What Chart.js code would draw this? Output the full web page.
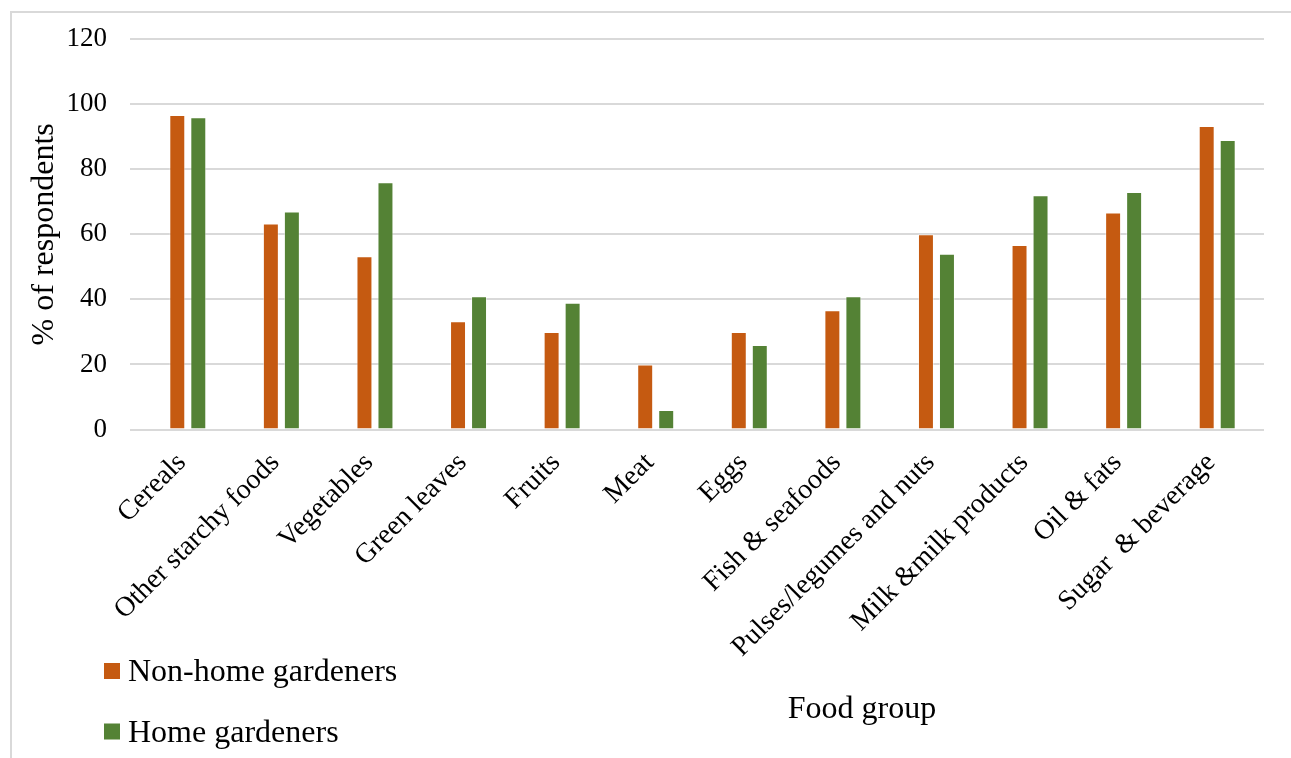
<!DOCTYPE html>
<html>
<head>
<meta charset="utf-8">
<title>Food group consumption</title>
<script src="https://cdn.jsdelivr.net/npm/chart.js@4.4.0/dist/chart.umd.min.js"></script>
<style>
    html, body { margin: 0; padding: 0; background: #fff; overflow: hidden; }
</style>
</head>
<body>
<canvas id="foodChart" width="1291" height="758"></canvas>
<script>
const foodGroups = ["Cereals", "Other starchy foods", "Vegetables", "Green leaves", "Fruits", "Meat",
    "Eggs", "Fish & seafoods", "Pulses/legumes and nuts", "Milk &milk products", "Oil & fats", "Sugar  & beverage"];
const nonHomeGardeners = [96.7, 63.3, 53.3, 33.3, 30, 20, 30, 36.7, 60, 56.7, 66.7, 93.3];
const homeGardeners = [96, 67, 76, 41, 39, 6, 26, 41, 54, 72, 73, 89];
const yTicks = [0, 20, 40, 60, 80, 100, 120];

const serif = "'Times New Roman', 'Liberation Serif', serif";
const gridGrey = "#d9d9d9";

// light grey frame round the whole chart
const framePlugin = {
    id: "frame",
    beforeDraw(chart) {
        const ctx = chart.ctx;
        ctx.save();
        ctx.strokeStyle = gridGrey;
        ctx.lineWidth = 2;
        ctx.beginPath();
        ctx.moveTo(11, chart.height);
        ctx.lineTo(11, 12);
        ctx.lineTo(chart.width, 12);
        ctx.stroke();
        ctx.restore();
    }
};

// stacked legend bottom left + the x axis title
const bottomPlugin = {
    id: "bottomLegend",
    afterDraw(chart) {
        const ctx = chart.ctx;
        ctx.save();
        ctx.font = "32px " + serif;
        ctx.fillStyle = "#000";
        ctx.textBaseline = "alphabetic";
        chart.data.datasets.forEach((ds, i) => {
            const y = 663 + i * 60.5;
            ctx.fillStyle = ds.backgroundColor;
            ctx.fillRect(104, y, 16, 16);
            ctx.fillStyle = "#000";
            ctx.textAlign = "left";
            ctx.fillText(ds.label, 128, y + 18);
        });
        ctx.textAlign = "center";
        ctx.fillText("Food group", 862, 718);
        ctx.restore();
    }
};

new Chart(document.getElementById("foodChart"), {
    type: "bar",
    data: {
        labels: foodGroups,
        datasets: [{
            label: "Non-home gardeners",
            data: nonHomeGardeners,
            backgroundColor: "#c55a11",
            borderColor: "rgba(255,255,255,0.45)",
            borderWidth: 1
        }, {
            label: "Home gardeners",
            data: homeGardeners,
            backgroundColor: "#548235",
            borderColor: "rgba(255,255,255,0.45)",
            borderWidth: 1
        }]
    },
    options: {
        responsive: false,
        animation: false,
        datasets: {
            bar: {
                categoryPercentage: 0.449,
                barPercentage: 0.76
            }
        },
        layout: {
            padding: { top: 38, right: 27, bottom: 0, left: 0 }
        },
        plugins: {
            legend: { display: false },
            tooltip: { enabled: false }
        },
        scales: {
            x: {
                grid: { display: false },
                border: { display: false },
                ticks: {
                    autoSkip: false,
                    minRotation: 45,
                    maxRotation: 45,
                    padding: 9,
                    labelOffset: -6,
                    color: "#000",
                    font: { family: serif, size: 28 }
                },
                afterFit: (scale) => { scale.height = 328.5; }
            },
            y: {
                min: yTicks[0],
                max: yTicks[yTicks.length - 1],
                afterBuildTicks: (scale) => { scale.ticks = yTicks.map(v => ({ value: v })); },
                grid: {
                    color: gridGrey,
                    lineWidth: 2,
                    drawTicks: true,
                    tickLength: 11
                },
                border: { display: false },
                ticks: {
                    padding: 23,
                    color: "#000",
                    font: { family: serif, size: 27 }
                },
                title: {
                    display: true,
                    text: "% of respondents",
                    color: "#000",
                    padding: { top: 25, bottom: 0 },
                    font: { family: serif, size: 32 }
                },
                afterFit: (scale) => { scale.width = 141; }
            }
        }
    },
    plugins: [framePlugin, bottomPlugin]
});
</script>
</body>
</html>
